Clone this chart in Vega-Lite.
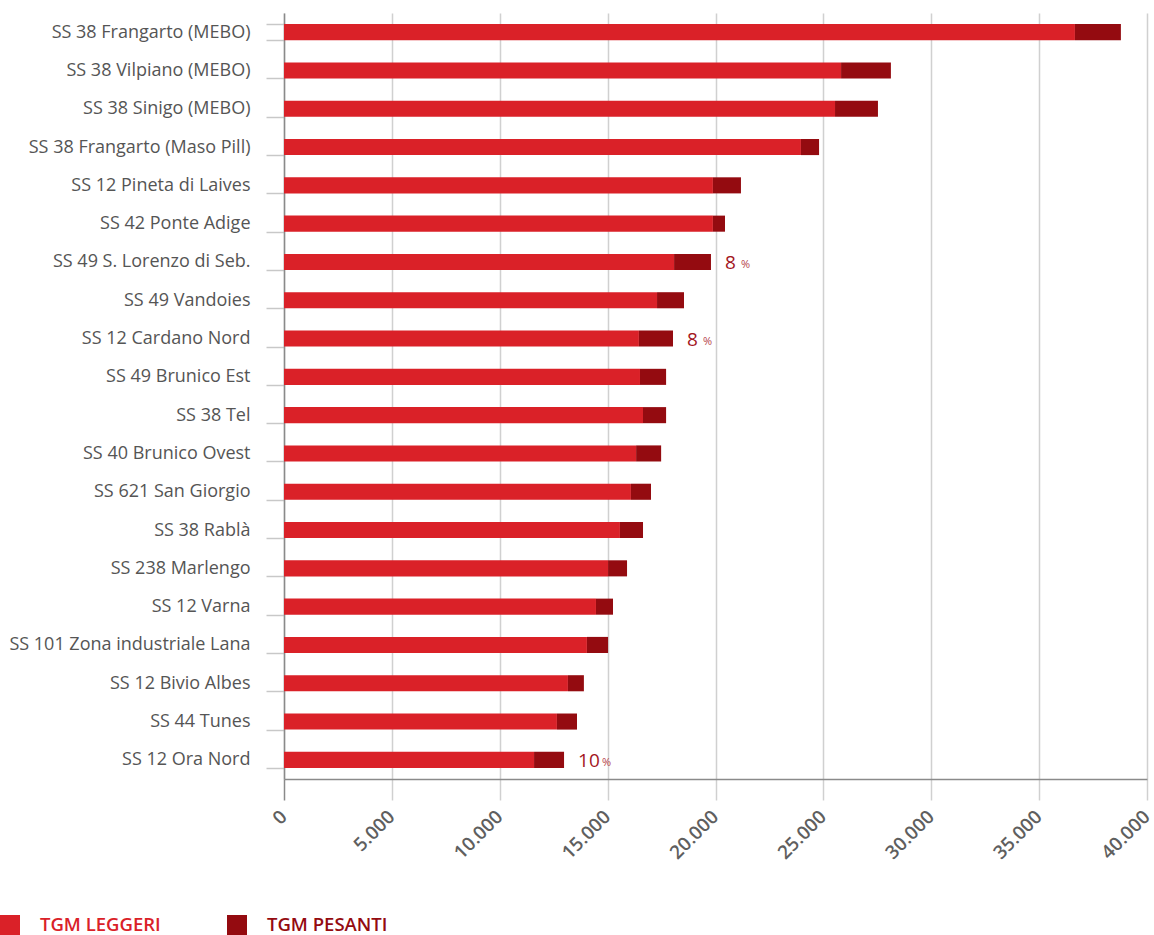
{
  "$schema": "https://vega.github.io/schema/vega-lite/v6.json",
  "width": 863,
  "height": 766,
  "autosize": {"type": "none"},
  "padding": {"left": 284, "top": 13, "right": 7, "bottom": 156},
  "background": "white",
  "config": {"view": {"stroke": null}, "font": "Open Sans"},
  "data": {
    "values": [
      {"name": "SS 38 Frangarto (MEBO)", "type": "TGM LEGGERI", "value": 36660},
      {"name": "SS 38 Frangarto (MEBO)", "type": "TGM PESANTI", "value": 2130},
      {"name": "SS 38 Vilpiano (MEBO)", "type": "TGM LEGGERI", "value": 25820},
      {"name": "SS 38 Vilpiano (MEBO)", "type": "TGM PESANTI", "value": 2310},
      {"name": "SS 38 Sinigo (MEBO)", "type": "TGM LEGGERI", "value": 25540},
      {"name": "SS 38 Sinigo (MEBO)", "type": "TGM PESANTI", "value": 1990},
      {"name": "SS 38 Frangarto (Maso Pill)", "type": "TGM LEGGERI", "value": 23960},
      {"name": "SS 38 Frangarto (Maso Pill)", "type": "TGM PESANTI", "value": 840},
      {"name": "SS 12 Pineta di Laives", "type": "TGM LEGGERI", "value": 19880},
      {"name": "SS 12 Pineta di Laives", "type": "TGM PESANTI", "value": 1300},
      {"name": "SS 42 Ponte Adige", "type": "TGM LEGGERI", "value": 19880},
      {"name": "SS 42 Ponte Adige", "type": "TGM PESANTI", "value": 560},
      {"name": "SS 49 S. Lorenzo di Seb.", "type": "TGM LEGGERI", "value": 18080},
      {"name": "SS 49 S. Lorenzo di Seb.", "type": "TGM PESANTI", "value": 1710, "pct": "8"},
      {"name": "SS 49 Vandoies", "type": "TGM LEGGERI", "value": 17290},
      {"name": "SS 49 Vandoies", "type": "TGM PESANTI", "value": 1250},
      {"name": "SS 12 Cardano Nord", "type": "TGM LEGGERI", "value": 16450},
      {"name": "SS 12 Cardano Nord", "type": "TGM PESANTI", "value": 1580, "pct": "8"},
      {"name": "SS 49 Brunico Est", "type": "TGM LEGGERI", "value": 16500},
      {"name": "SS 49 Brunico Est", "type": "TGM PESANTI", "value": 1210},
      {"name": "SS 38 Tel", "type": "TGM LEGGERI", "value": 16640},
      {"name": "SS 38 Tel", "type": "TGM PESANTI", "value": 1070},
      {"name": "SS 40 Brunico Ovest", "type": "TGM LEGGERI", "value": 16320},
      {"name": "SS 40 Brunico Ovest", "type": "TGM PESANTI", "value": 1160},
      {"name": "SS 621 San Giorgio", "type": "TGM LEGGERI", "value": 16080},
      {"name": "SS 621 San Giorgio", "type": "TGM PESANTI", "value": 930},
      {"name": "SS 38 Rablà", "type": "TGM LEGGERI", "value": 15570},
      {"name": "SS 38 Rablà", "type": "TGM PESANTI", "value": 1070},
      {"name": "SS 238 Marlengo", "type": "TGM LEGGERI", "value": 15020},
      {"name": "SS 238 Marlengo", "type": "TGM PESANTI", "value": 880},
      {"name": "SS 12 Varna", "type": "TGM LEGGERI", "value": 14460},
      {"name": "SS 12 Varna", "type": "TGM PESANTI", "value": 790},
      {"name": "SS 101 Zona industriale Lana", "type": "TGM LEGGERI", "value": 14040},
      {"name": "SS 101 Zona industriale Lana", "type": "TGM PESANTI", "value": 980},
      {"name": "SS 12 Bivio Albes", "type": "TGM LEGGERI", "value": 13160},
      {"name": "SS 12 Bivio Albes", "type": "TGM PESANTI", "value": 740},
      {"name": "SS 44 Tunes", "type": "TGM LEGGERI", "value": 12650},
      {"name": "SS 44 Tunes", "type": "TGM PESANTI", "value": 930},
      {"name": "SS 12 Ora Nord", "type": "TGM LEGGERI", "value": 11590},
      {"name": "SS 12 Ora Nord", "type": "TGM PESANTI", "value": 1390, "pct": "10"}
    ]
  },
  "layer": [
    {
      "mark": {"type": "bar"},
      "encoding": {
        "y": {
          "field": "name", "type": "nominal", "sort": null,
          "scale": {"paddingInner": 0.58, "paddingOuter": 0.29},
          "axis": {
            "title": null, "domainColor": "#8a8a8a", "domainWidth": 1.5,
            "tickBand": "extent", "tickSize": 18, "tickColor": "#c8c8c8", "tickWidth": 1.5,
            "labelPadding": 16, "labelFontSize": 18, "labelColor": "#555555", "labelFont": "Open Sans",
            "labelLimit": 0, "grid": false
          }
        },
        "x": {
          "field": "value", "type": "quantitative", "stack": "zero",
          "scale": {"domain": [0, 40000], "nice": false},
          "axis": {
            "title": null,
            "values": [0, 5000, 10000, 15000, 20000, 25000, 30000, 35000, 40000],
            "grid": true, "gridColor": "#d0d0d0", "gridWidth": 1.5,
            "domainColor": "#8a8a8a", "domainWidth": 1.5,
            "tickSize": 21, "tickWidth": 1.5,
            "tickColor": {"condition": {"test": "datum.value === 0", "value": "#8a8a8a"}, "value": "#d0d0d0"},
            "labelAngle": -45, "labelFontSize": 19, "labelFontWeight": 600, "labelColor": "#5f5f5f",
            "labelPadding": 7, "labelOffset": -7, "labelFont": "Open Sans", "labelOverlap": false, "labelBound": false,
            "labelExpr": "replace(format(datum.value, ','), ',', '.')"
          }
        },
        "color": {
          "field": "type", "type": "nominal",
          "scale": {"domain": ["TGM LEGGERI", "TGM PESANTI"], "range": ["#da2128", "#940b10"]},
          "legend": {
            "orient": "none", "legendX": -284, "legendY": 902, "direction": "horizontal",
            "title": null, "symbolType": "square", "symbolSize": 400, "symbolStrokeWidth": 0,
            "labelFontSize": 18.5, "labelFontWeight": 600, "labelOffset": 20, "columnPadding": 66, "padding": 0,
            "labelFont": "Open Sans", "labelLimit": 0,
            "encode": {"labels": {"update": {"fill": {"scale": "color", "field": "value"}}}}
          }
        },
        "order": {"field": "type", "sort": "ascending"}
      }
    },
    {
      "transform": [
        {"joinaggregate": [{"op": "sum", "field": "value", "as": "total"}], "groupby": ["name"]},
        {"filter": "datum.pct != null"}
      ],
      "mark": {"type": "text", "align": "left", "baseline": "middle", "dx": 14, "dy": 1, "fontSize": 19, "color": "#a3161d", "font": "Open Sans"},
      "encoding": {
        "y": {"field": "name", "type": "nominal", "sort": null},
        "x": {"field": "total", "type": "quantitative"},
        "text": {"field": "pct"}
      }
    },
    {
      "transform": [
        {"joinaggregate": [{"op": "sum", "field": "value", "as": "total"}], "groupby": ["name"]},
        {"filter": "datum.pct == '8'"}
      ],
      "mark": {"type": "text", "align": "left", "baseline": "middle", "dx": 30, "dy": 3, "fontSize": 11, "color": "#b5444a", "font": "Open Sans"},
      "encoding": {
        "y": {"field": "name", "type": "nominal", "sort": null},
        "x": {"field": "total", "type": "quantitative"},
        "text": {"value": "%"}
      }
    },
    {
      "transform": [
        {"joinaggregate": [{"op": "sum", "field": "value", "as": "total"}], "groupby": ["name"]},
        {"filter": "datum.pct == '10'"}
      ],
      "mark": {"type": "text", "align": "left", "baseline": "middle", "dx": 38, "dy": 3, "fontSize": 11, "color": "#b5444a", "font": "Open Sans"},
      "encoding": {
        "y": {"field": "name", "type": "nominal", "sort": null},
        "x": {"field": "total", "type": "quantitative"},
        "text": {"value": "%"}
      }
    }
  ]
}
